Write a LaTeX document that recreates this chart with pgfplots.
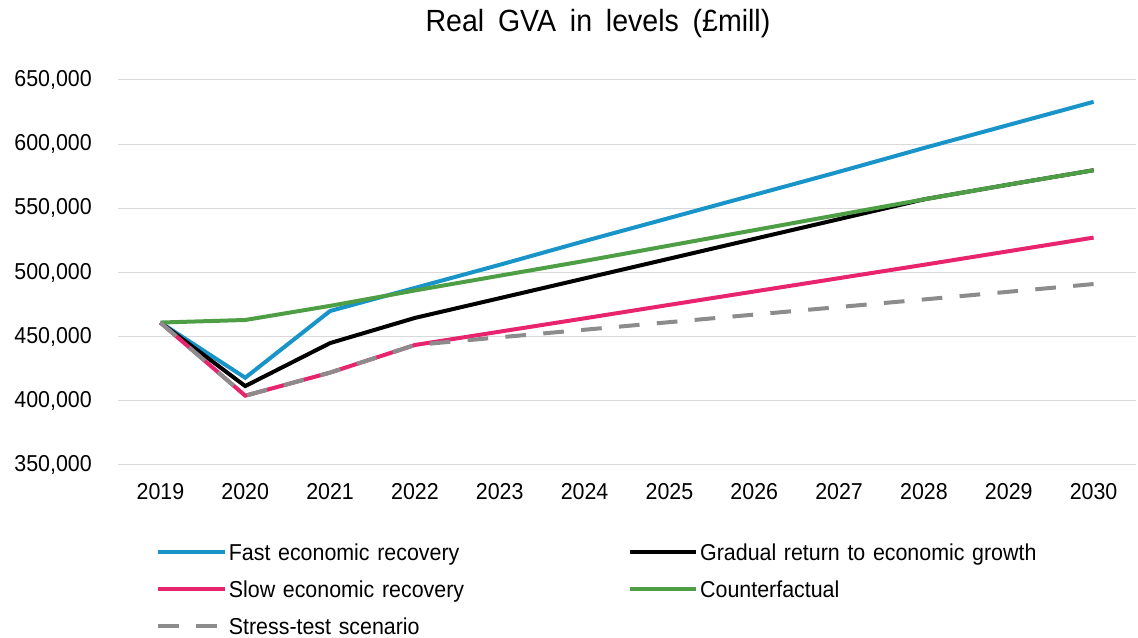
\documentclass[border=0pt]{standalone}
\usepackage{fontspec}
\setmainfont{Liberation Sans}[FakeStretch=0.93]
\usepackage{pgfplots}
\pgfplotsset{compat=1.18}
\definecolor{cfast}{RGB}{25,148,200}
\definecolor{cslow}{RGB}{232,36,110}
\definecolor{ccount}{RGB}{78,158,69}
\definecolor{cstress}{RGB}{140,140,140}
\definecolor{cgrid}{RGB}{217,217,217}
\begin{document}
\begin{tikzpicture}
\begin{axis}[
  scale only axis,
  width=763.5pt, height=288.75pt,
  xmin=-0.5, xmax=11.5, ymin=350000, ymax=650000,
  xtick={0,1,2,3,4,5,6,7,8,9,10,11},
  xticklabels={2019,2020,2021,2022,2023,2024,2025,2026,2027,2028,2029,2030},
  ytick={350000,400000,450000,500000,550000,600000,650000},
  scaled y ticks=false,
  /pgf/number format/assume math mode=true,
  yticklabel style={/pgf/number format/fixed, /pgf/number format/1000 sep={,}, anchor=east, inner sep=0pt, xshift=-19.5pt},
  xticklabel style={anchor=north, inner sep=0pt, yshift=-13.5pt},
  tick label style={font=\fontsize{17.25}{20}\selectfont},
  axis line style={draw=none},
  major tick style={draw=none},
  ymajorgrids,
  grid style={cgrid, line width=0.75pt},
  every axis title shift=0pt,
  title={Real\hspace{0.45em}GVA\hspace{0.45em}in\hspace{0.45em}levels\hspace{0.45em}(£mill)},
  title style={at={(axis description cs:0.4715,1.1247)}, anchor=base, font=\fontsize{23}{27}\selectfont, inner sep=0pt},
  legend columns=2,
  legend image code/.code={\draw[#1] (0pt,0pt) -- (50pt,0pt);},
  legend style={draw=none, fill=none, inner sep=0pt, at={(axis description cs:0.0373,-0.2044)}, anchor=north west,
    font=\fontsize{17.25}{20}\selectfont, column sep=0pt, row sep=15.25pt,
    nodes={inner xsep=1.5pt, inner ysep=0pt, text height=12.5pt, text depth=0pt, text width=297.5pt, align=left}},
  legend cell align=left,
]
\addplot[cfast, line width=3pt] coordinates {(0,461000)(1,418000)(2,470000)(3,488000)(4,506000)(5,524500)(6,542500)(7,560500)(8,578500)(9,597000)(10,615000)(11,633000)};
\addlegendentry{Fast economic recovery}
\addplot[black, line width=3pt] coordinates {(0,461000)(1,411500)(2,445000)(3,464600)(4,480000)(5,495400)(6,510800)(7,526200)(8,541600)(9,557000)(10,568500)(11,579700)};
\addlegendentry{Gradual return to economic growth}
\addplot[cslow, line width=3pt] coordinates {(0,461000)(1,404000)(2,422000)(3,443500)(4,453900)(5,464300)(6,474800)(7,485200)(8,495600)(9,506000)(10,516600)(11,527200)};
\addlegendentry{Slow economic recovery}
\addplot[ccount, line width=3pt] coordinates {(0,461000)(1,463000)(2,474000)(3,486000)(4,497500)(5,509000)(6,521000)(7,533000)(8,545000)(9,557000)(10,568500)(11,579700)};
\addlegendentry{Counterfactual}
\addplot[cstress, line width=3pt, dash pattern=on 15.5pt off 13pt] coordinates {(0,461000)(1,404000)(2,422000)(3,443500)(4,449500)(5,455400)(6,461300)(7,467200)(8,473100)(9,479000)(10,485000)(11,491000)};
\addlegendentry{Stress-test scenario}
\end{axis}
\pgfresetboundingbox
\path[use as bounding box] (-88.5pt,-129.75pt) rectangle (765pt,348.75pt);
\end{tikzpicture}
\end{document}
